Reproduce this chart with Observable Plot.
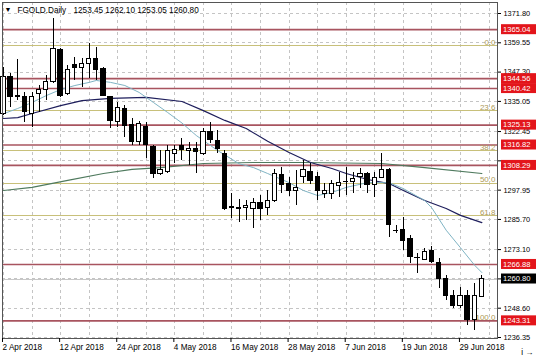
<!DOCTYPE html>
<html><head><meta charset="utf-8">
<script src="https://cdn.jsdelivr.net/npm/d3@7"></script>
<script src="https://cdn.jsdelivr.net/npm/@observablehq/plot@0.6"></script>
<style>
html,body{margin:0;padding:0;background:#fff;}
#chart svg{display:block;}
</style></head><body><div id="chart"></div>
<script>
// ---- data ----
const symbol = "FGOLD.Daily";
const dates = [
"2018-04-02","2018-04-03","2018-04-04","2018-04-05","2018-04-06","2018-04-09","2018-04-10","2018-04-11","2018-04-12","2018-04-13",
"2018-04-16","2018-04-17","2018-04-18","2018-04-19","2018-04-20","2018-04-23","2018-04-24","2018-04-25","2018-04-26","2018-04-27",
"2018-04-30","2018-05-01","2018-05-02","2018-05-03","2018-05-04","2018-05-07","2018-05-08","2018-05-09","2018-05-10","2018-05-11",
"2018-05-14","2018-05-15","2018-05-16","2018-05-17","2018-05-18","2018-05-21","2018-05-22","2018-05-23","2018-05-24","2018-05-25",
"2018-05-28","2018-05-29","2018-05-30","2018-05-31","2018-06-01","2018-06-04","2018-06-05","2018-06-06","2018-06-07","2018-06-08",
"2018-06-11","2018-06-12","2018-06-13","2018-06-14","2018-06-15","2018-06-18","2018-06-19","2018-06-20","2018-06-21","2018-06-22",
"2018-06-25","2018-06-26","2018-06-27","2018-06-28","2018-06-29","2018-07-02","2018-07-03","2018-07-04"];
const open = [1329.8,1345.2,1337.1,1336.8,1329.8,1338.2,1340.0,1343.1,1356.6,1338.0,
1350.1,1349.1,1350.8,1352.8,1348.7,1336.8,1326.4,1331.9,1325.0,1318.0,
1324.3,1315.9,1304.8,1305.5,1313.1,1316.6,1314.3,1315.2,1313.1,1322.2,
1318.7,1313.1,1290.3,1290.2,1290.6,1290.1,1292.5,1290.6,1293.3,1304.1,
1300.6,1297.5,1303.4,1305.7,1303.4,1296.4,1296.4,1299.5,1301.3,1301.3,
1303.6,1304.8,1299.9,1303.1,1306.2,1280.8,1281.1,1277.6,1269.7,1268.8,
1272.7,1267.4,1260.9,1253.9,1249.7,1253.9,1243.5,1253.45];
const high = [1349.4,1346.6,1352.6,1338.9,1338.9,1341.7,1345.9,1369.6,1357.0,1350.1,
1353.5,1352.8,1359.1,1357.7,1349.4,1337.2,1334.7,1333.3,1327.8,1326.6,
1326.4,1316.6,1314.5,1316.6,1316.6,1319.4,1318.0,1318.0,1323.6,1326.4,
1322.9,1314.5,1296.4,1293.9,1293.6,1294.3,1295.7,1297.8,1306.4,1307.3,
1303.4,1306.2,1310.3,1308.9,1305.5,1300.6,1302.0,1305.5,1307.6,1305.5,
1306.9,1305.5,1305.5,1313.4,1306.9,1283.2,1286.6,1279.0,1271.3,1273.4,
1274.4,1269.2,1262.3,1256.0,1257.4,1256.0,1258.8,1262.10];
const low = [1329.2,1332.6,1335.4,1326.4,1324.3,1330.5,1335.4,1342.4,1336.8,1337.5,
1343.8,1341.0,1344.5,1343.8,1337.0,1323.6,1324.3,1320.1,1316.6,1316.6,
1311.0,1302.7,1304.1,1304.8,1308.9,1310.3,1308.3,1304.8,1312.4,1317.3,
1313.1,1289.4,1286.0,1284.6,1285.3,1281.8,1285.3,1287.4,1292.9,1296.4,
1295.3,1291.5,1300.6,1300.3,1293.6,1294.3,1293.9,1295.0,1295.7,1296.4,
1298.5,1296.4,1295.0,1302.7,1278.3,1279.7,1272.7,1267.1,1263.0,1268.5,
1267.1,1256.7,1251.8,1248.3,1248.3,1241.4,1239.3,1253.05];
const close = [1345.2,1336.8,1337.3,1330.5,1336.8,1340.0,1343.1,1357.0,1337.5,1348.0,
1348.9,1350.8,1352.8,1348.0,1337.5,1326.8,1332.4,1324.6,1318.0,1325.7,
1316.9,1304.8,1306.2,1314.5,1314.8,1314.8,1315.2,1313.8,1322.2,1319.0,
1315.2,1290.1,1290.7,1290.3,1291.5,1292.5,1290.1,1293.6,1304.5,1299.9,
1297.5,1298.8,1306.2,1301.7,1297.8,1297.5,1300.6,1301.0,1301.5,1302.7,
1304.8,1299.9,1303.1,1306.2,1283.2,1280.9,1276.9,1269.9,1269.6,1272.3,
1267.8,1260.9,1253.9,1249.7,1253.9,1243.5,1253.8,1260.80];

// moving averages (bar index, price)
const maFastIdx = [0,2,4,6,8,10,12,13,15,17,19,21,23,25,27,30,33,35,37,40,42,44,46,48,51,54,56,59,60,62,64,66,67];
const maFastVal = [1329.9,1332.1,1334.6,1337.5,1340.0,1341.7,1343.0,1343.8,1343.0,1341.7,1338.8,1334.6,1330.4,1326.0,1320.8,1314.5,1309.0,1307.4,1304.9,1301.1,1297.8,1295.7,1297.0,1299.1,1301.1,1301.1,1298.6,1293.6,1290.5,1281.2,1273.9,1266.5,1263.5];
const maMidIdx = [0,2,4,8,11,15,20,25,28,31,34,37,40,43,46,48,51,54,56,59,62,64,67];
const maMidVal = [1327.9,1328.3,1330.0,1333.3,1335.4,1336.3,1336.7,1335.0,1331.2,1327.1,1323.7,1318.4,1313.7,1309.5,1307.0,1304.9,1302.4,1300.7,1297.8,1293.6,1290.3,1287.4,1284.4];
const maSlowIdx = [0,4,9,14,18,22,28,35,42,53,59,67];
const maSlowVal = [1297.8,1299.1,1302.0,1304.9,1306.6,1307.4,1309.1,1309.5,1309.5,1309.1,1307.4,1304.9];

const priceTicks = [1371.80,1359.55,1347.30,1335.05,1322.45,1310.20,1297.95,1285.70,1273.10,1260.85,1248.60,1236.35];
const hiddenTicks = [1310.20,1260.85]; // covered by price tags in the reference
const dateTicks = ["2018-04-02","2018-04-12","2018-04-24","2018-05-04","2018-05-16","2018-05-28","2018-06-07","2018-06-19","2018-06-29"];
const levels = [1365.04,1344.56,1340.42,1325.13,1316.82,1308.29,1266.88,1243.31];
const fibLabels = ["0.0","23.6","38.2","50.0","61.8","100.0"];
const fibPrices = [1358.4,1331.2,1314.4,1300.9,1287.3,1243.3];
const lastPrice = 1260.80;

// ---- build ----
const candles = dates.map((d, i) => ({i, date: d, open: open[i], high: high[i], low: low[i], close: close[i]}));
const ma = (idx, val) => idx.map((k, j) => ({i: k, v: val[j]}));
const fast = ma(maFastIdx, maFastVal), mid = ma(maMidIdx, maMidVal), slow = ma(maSlowIdx, maSlowVal);
const fibs = fibLabels.map((t, j) => ({t, p: fibPrices[j]}));
const xTickIdx = dateTicks.map(d => dates.indexOf(d));
const gridX = d3.range(0, dates.length + 2, 4);
const fmtDate = d3.utcFormat("%-d %b %Y");
const FONT = "Liberation Sans, Arial, sans-serif";
const last = candles[candles.length - 1];
const ohlcText = [last.open, last.high, last.low, last.close].map(v => v.toFixed(2)).join(" ");

const chart = Plot.plot({
  width: 536, height: 357,
  marginLeft: 2, marginRight: 39, marginTop: 2, marginBottom: 19,
  style: {fontFamily: FONT, background: "#fff", color: "#000"},
  x: {type: "linear", domain: [-0.14, 69.19], axis: null},
  y: {domain: [1235.93, 1376.4], axis: null},
  marks: [
    Plot.ruleX(gridX, {x: d => d, stroke: "#c4c4c4", strokeDasharray: "3,3", shapeRendering: "crispEdges"}),
    Plot.ruleY(priceTicks, {y: d => d, stroke: "#c4c4c4", strokeDasharray: "3,3", shapeRendering: "crispEdges"}),
    Plot.ruleY([lastPrice], {y: d => d, stroke: "#c8c8c8", strokeWidth: 1, shapeRendering: "crispEdges"}),
    Plot.ruleY(fibs, {y: "p", stroke: "#c8c07a", strokeWidth: 1, shapeRendering: "crispEdges"}),
    Plot.ruleY(levels, {y: d => d, stroke: "#a8545f", strokeWidth: 1.6}),
    Plot.text(fibs, {y: "p", text: "t", frameAnchor: "right", textAnchor: "end", dx: -2, dy: -3.5, fill: "#ad9a58", fontSize: 8}),
    Plot.line(slow, {x: "i", y: "v", stroke: "#4f7a5e", strokeWidth: 1.2}),
    Plot.line(mid, {x: "i", y: "v", stroke: "#1e1e5c", strokeWidth: 1.2}),
    Plot.line(fast, {x: "i", y: "v", stroke: "#7fb4c4", strokeWidth: 1}),
    Plot.ruleX(candles, {x: "i", y1: "low", y2: "high", stroke: "#000", strokeWidth: 1, shapeRendering: "crispEdges"}),
    Plot.rect(candles, {x1: d => d.i - 0.3, x2: d => d.i + 0.3, y1: "open", y2: "close",
      fill: d => d.close >= d.open ? "#fff" : "#000", stroke: "#000", strokeWidth: 1, shapeRendering: "crispEdges"}),
    Plot.frame({stroke: "#555", shapeRendering: "crispEdges"}),
    Plot.axisX(xTickIdx, {tickFormat: i => fmtDate(new Date(dates[i])), textAnchor: "start", tickSize: 4, tickPadding: 2, dx: -1, fontSize: 8.2, stroke: "#000"}),
    Plot.axisY(priceTicks, {anchor: "right", tickFormat: d => hiddenTicks.includes(d) ? "" : d.toFixed(2), tickSize: 3, tickPadding: 3, fontSize: 7.4, stroke: "#000"}),
    Plot.text(["\u25BC"], {frameAnchor: "top-left", text: d => d, textAnchor: "start", lineAnchor: "top", dx: 2, dy: 5, fontSize: 7, fill: "#000"}),
    Plot.text([symbol], {frameAnchor: "top-left", text: d => d, textAnchor: "start", lineAnchor: "top", dx: 15, dy: 4.5, fontSize: 8.2, fill: "#000"}),
    Plot.text([ohlcText], {frameAnchor: "top-left", text: d => d, textAnchor: "start", lineAnchor: "top", dx: 71, dy: 4.5, fontSize: 8.2, fill: "#000"})
  ]
});

// price tags on the right axis, positioned via Plot's y scale
const ys = chart.scale("y");
const svg = d3.select(chart);
const g = svg.append("g").attr("font-family", FONT).attr("font-size", 7.6).attr("text-anchor", "start");
function tag(v, bg) {
  const y = ys.apply(v);
  g.append("rect").attr("x", 501).attr("y", y - 5).attr("width", 35).attr("height", 10).attr("fill", bg);
  g.append("text").attr("x", 503).attr("y", y).attr("dy", "0.35em").attr("fill", "#fff").text(v.toFixed(2));
}
levels.forEach(v => tag(v, "#e3151b"));
tag(lastPrice, "#000");

document.getElementById("chart").appendChild(chart);
</script></body></html>
